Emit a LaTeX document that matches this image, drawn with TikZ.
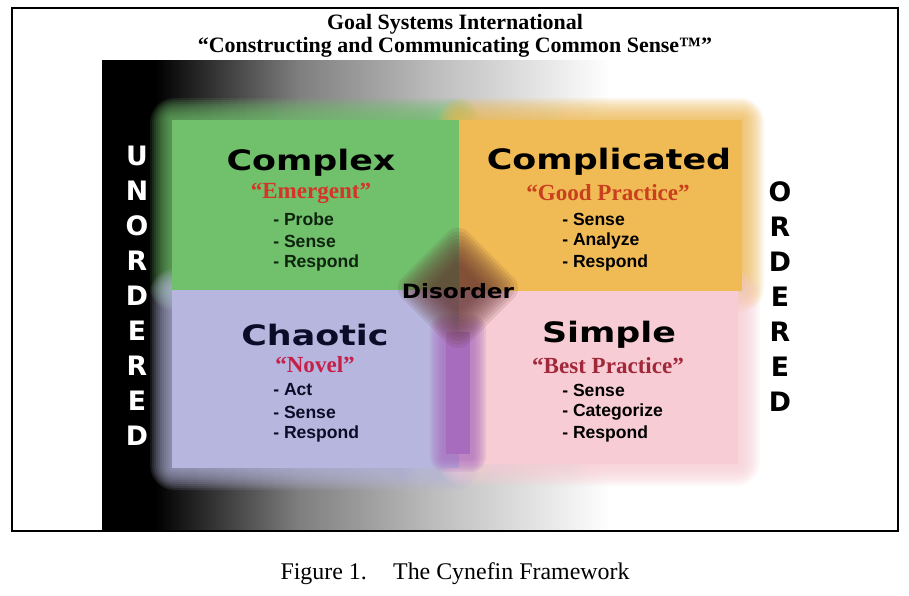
\documentclass[tikz,border=0pt]{standalone}
\usepackage{fontspec}
\setmainfont{Liberation Serif}
\newfontfamily\heavyfont{DejaVu Sans}
\newfontfamily\arialfont{Liberation Sans}
\usetikzlibrary{positioning}

\definecolor{cxgreen}{RGB}{112,192,108}
\definecolor{cporange}{RGB}{240,186,84}
\definecolor{chlav}{RGB}{182,182,222}
\definecolor{smpink}{RGB}{248,204,212}
\definecolor{disbrown}{RGB}{98,52,48}
\definecolor{dispurple}{RGB}{168,108,190}
\definecolor{redgreen}{RGB}{214,52,40}
\definecolor{redorange}{RGB}{200,64,30}
\definecolor{rednovel}{RGB}{198,32,74}
\definecolor{redbest}{RGB}{160,40,58}
\definecolor{inkgreen}{RGB}{14,36,14}
\definecolor{inknavy}{RGB}{12,12,40}

% soft halo round a rectangle: colour, x1, y1, x2, y2
\newcommand{\softhalo}[5]{%
  \foreach \d in {22,20,...,2}
    \fill[#1, opacity=0.12, rounded corners={\d*0.8pt}] (#2-\d,#3-\d) rectangle (#4+\d,#5+\d);}
\newcommand{\widetext}[1]{\scalebox{1.24}[1]{#1}}

\begin{document}
\begin{tikzpicture}[
x=0.025cm, y=-0.025cm,
every node/.style={inner sep=0pt},
heading/.style={font=\bfseries\fontsize{15.6}{18}\selectfont},
cynzone/.style={font=\heavyfont\bfseries\fontsize{20}{24}\selectfont},
motto/.style={font=\bfseries\fontsize{16.4}{19}\selectfont},
stepitem/.style={font=\arialfont\bfseries\fontsize{12.5}{15}\selectfont, anchor=west},
sideword/.style={font=\heavyfont\bfseries\fontsize{19}{24.9}\selectfont, align=center},
caption/.style={font=\fontsize{17}{20}\selectfont}
]
\useasboundingbox (0,0) rectangle (909,595);
\fill[white] (0,0) rectangle (909,595);

% background gradient
\fill[black] (102,60) rectangle (155,531);
\shade[left color=black, right color=black!50] (155,60) rectangle (300,531);
\shade[left color=black!50, right color=black!25] (300,60) rectangle (440,531);
\shade[left color=black!25, right color=white] (440,60) rectangle (610,531);

% quadrants
\softhalo{cxgreen}{172}{120}{458}{289}
\softhalo{cporange}{460}{120}{742}{290}
\softhalo{chlav}{172}{291}{458}{468}
\softhalo{smpink}{460}{292}{738}{464}
\fill[cxgreen] (172,120) rectangle (459,290);
\fill[cporange] (459,120) rectangle (742,291);
\fill[chlav] (172,290) rectangle (459,468);
\fill[smpink] (459,291) rectangle (738,464);

% disorder
\foreach \d in {14,12,...,2}
  \fill[dispurple, opacity=0.16, rounded corners={\d*0.8pt}] (444-\d,328-\d) rectangle (472+\d,458+\d);
\fill[dispurple] (446,332) rectangle (470,454);
\foreach \r in {66,62,...,26}
  \fill[disbrown, opacity=0.12, rounded corners={\r*0.15pt}] (458,288-\r) -- (458+\r,288) -- (458,288+\r) -- (458-\r,288) -- cycle;

% titles
\node[heading] (org) at (455,24) {Goal Systems International};
\node[heading] (slogan) at (455,47) {“Constructing and Communicating Common Sense™”};

% Complex
\node[cynzone, text=black] (cplx) at (311,163) {\widetext{Complex}};
\node[motto, text=redgreen] (cplx-motto) at (311,193) {“Emergent”};
\foreach \t [count=\i] in {Probe,Sense,Respond}
  \node[stepitem, text=inkgreen] (cplx-\i) at (273,197+22*\i) {- \t};

% Complicated
\node[cynzone, text=black] (cpld) at (609,162) {\widetext{Complicated}};
\node[motto, text=redorange] (cpld-motto) at (608,193) {“Good Practice”};
\foreach \t [count=\i] in {Sense,Analyze,Respond}
  \node[stepitem, text=black] (cpld-\i) at (562,197+22*\i) {- \t};

% Chaotic
\node[cynzone, text=inknavy] (chao) at (315,335) {\widetext{Chaotic}};
\node[motto, text=rednovel] (chao-motto) at (315,365) {“Novel”};
\foreach \t [count=\i] in {Act,Sense,Respond}
  \node[stepitem, text=inknavy] (chao-\i) at (273,368+22*\i) {- \t};

% Simple
\node[cynzone, text=black] (simp) at (609,335) {\widetext{Simple}};
\node[motto, text=redbest] (simp-motto) at (608,366) {“Best Practice”};
\foreach \t [count=\i] in {Sense,Categorize,Respond}
  \node[stepitem, text=black] (simp-\i) at (562,368+22*\i) {- \t};

\node[font=\heavyfont\bfseries\fontsize{14}{17}\selectfont] (dis) at (458,291) {\scalebox{1.18}[1]{Disorder}};

% side words
\node[sideword, text=white] (unord) at (137,296) {U\\N\\O\\R\\D\\E\\R\\E\\D};
\node[sideword, text=black] (ord) at (780,297) {O\\R\\D\\E\\R\\E\\D};

% frame and caption
\draw[line width=0.8pt] (12,8) rectangle (898,531);
\node[caption] (fig) at (455,574) {Figure 1.\hspace{1.1em}The Cynefin Framework};
\end{tikzpicture}
\end{document}
